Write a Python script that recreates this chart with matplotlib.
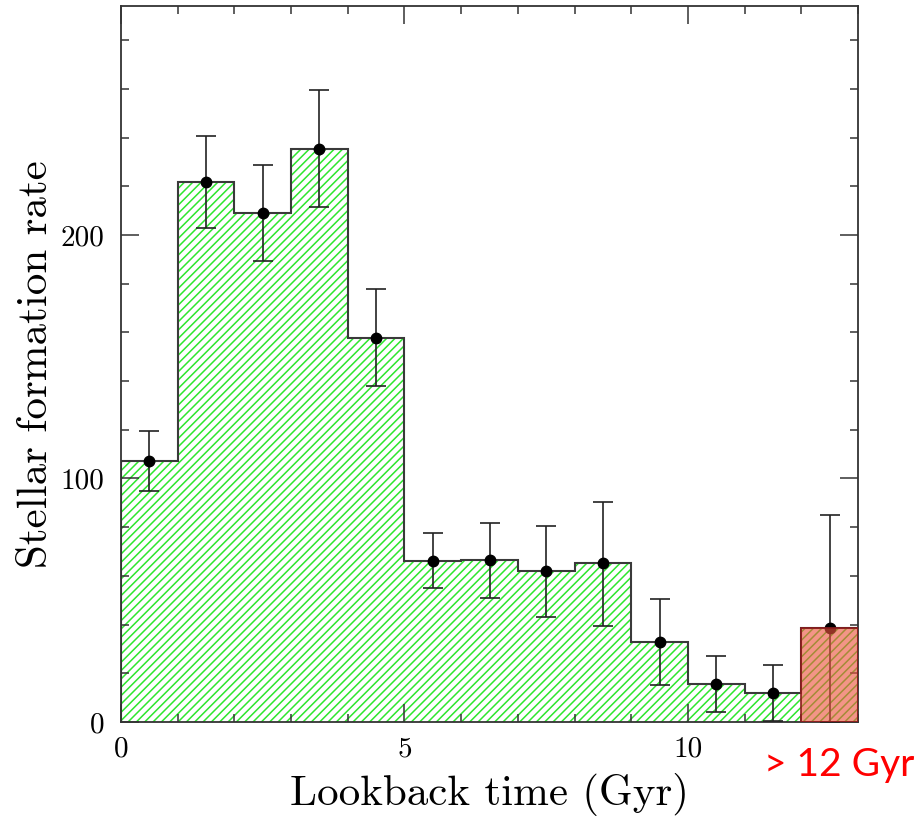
import matplotlib
matplotlib.use("Agg")
import matplotlib.pyplot as plt
import numpy as np

# ---- data ----
bin_edges = [0, 1, 2, 3, 4, 5, 6, 7, 8, 9, 10, 11, 12, 13]
sfr = [107.2, 221.9, 209.0, 235.4, 157.8, 66.2, 66.5, 61.9, 65.2, 33.0, 15.7, 11.9, 38.7]
err_hi = [119.3, 240.8, 228.7, 259.5, 177.7, 77.6, 81.8, 80.5, 90.2, 50.5, 27.2, 23.5, 85.1]
err_lo = [95.0, 203.0, 189.4, 211.4, 138.0, 55.0, 50.8, 43.3, 39.6, 15.2, 4.1, 0.4, 0.0]
old_label = "> 12 Gyr"
x_ticks = [0, 5, 10]
y_ticks = [0, 100, 200]

plt.rcParams['hatch.linewidth'] = 1.1

fig = plt.figure(figsize=(9.17, 8.16), dpi=100)
ax = fig.add_axes([121/917, 1-722/816, 737/917, 716/816])

edges = np.array(bin_edges, dtype=float)
vals = np.array(sfr)
centers = 0.5 * (edges[:-1] + edges[1:])
widths = np.diff(edges)

green = '#2ee62e'
ax.bar(edges[:-1], vals, width=widths, align='edge', color='none',
       edgecolor=green, hatch='////', linewidth=0, zorder=1)
ax.stairs(vals, edges, color='#3a3a3a', linewidth=1.5, zorder=2)

yerr = np.array([vals - np.array(err_lo), np.array(err_hi) - vals])
ax.errorbar(centers, vals, yerr=yerr, fmt='o', color='black', ecolor='#222222',
            elinewidth=1.2, capsize=7, capthick=1.2, markersize=7.5, zorder=3)

# highlight of oldest bin
ax.bar(edges[-2], vals[-1], width=widths[-1], align='edge',
       facecolor=(0.93, 0.33, 0.24, 0.62), edgecolor='#8b1a1a',
       linewidth=1.2, zorder=4)

ax.set_xlim(0, 13)
ax.set_ylim(0, 294)
ax.set_xticks(x_ticks)
ax.set_xticks(np.arange(0, 14, 1), minor=True)
ax.set_yticks(y_ticks)
ax.set_yticks(np.arange(0, 295, 20), minor=True)

for s in ax.spines.values():
    s.set_linewidth(1.3)
    s.set_color('#333333')

ax.tick_params(which='both', direction='in', top=True, right=True,
               color='#333333', width=1.1)
ax.tick_params(which='major', length=13, labelsize=21)
ax.tick_params(axis='x', which='major', pad=10)
ax.tick_params(axis='y', which='major', pad=12)
ax.tick_params(which='minor', length=6)
for lab in ax.get_xticklabels() + ax.get_yticklabels():
    lab.set_family('cmr10')

ax.set_xlabel('Lookback time (Gyr)', family='cmr10', fontsize=31, va='baseline')
ax.xaxis.set_label_coords(0.5, (722-805)/716)
ax.set_ylabel('Stellar formation rate', family='cmr10', fontsize=31, va='center')
ax.yaxis.set_label_coords((36-121)/737, 0.5)

fig.text(839/917, 1-776/816, old_label, color='red', fontsize=28,
         family='Lato', ha='center', va='baseline')

fig.savefig('out.png', dpi=100)
